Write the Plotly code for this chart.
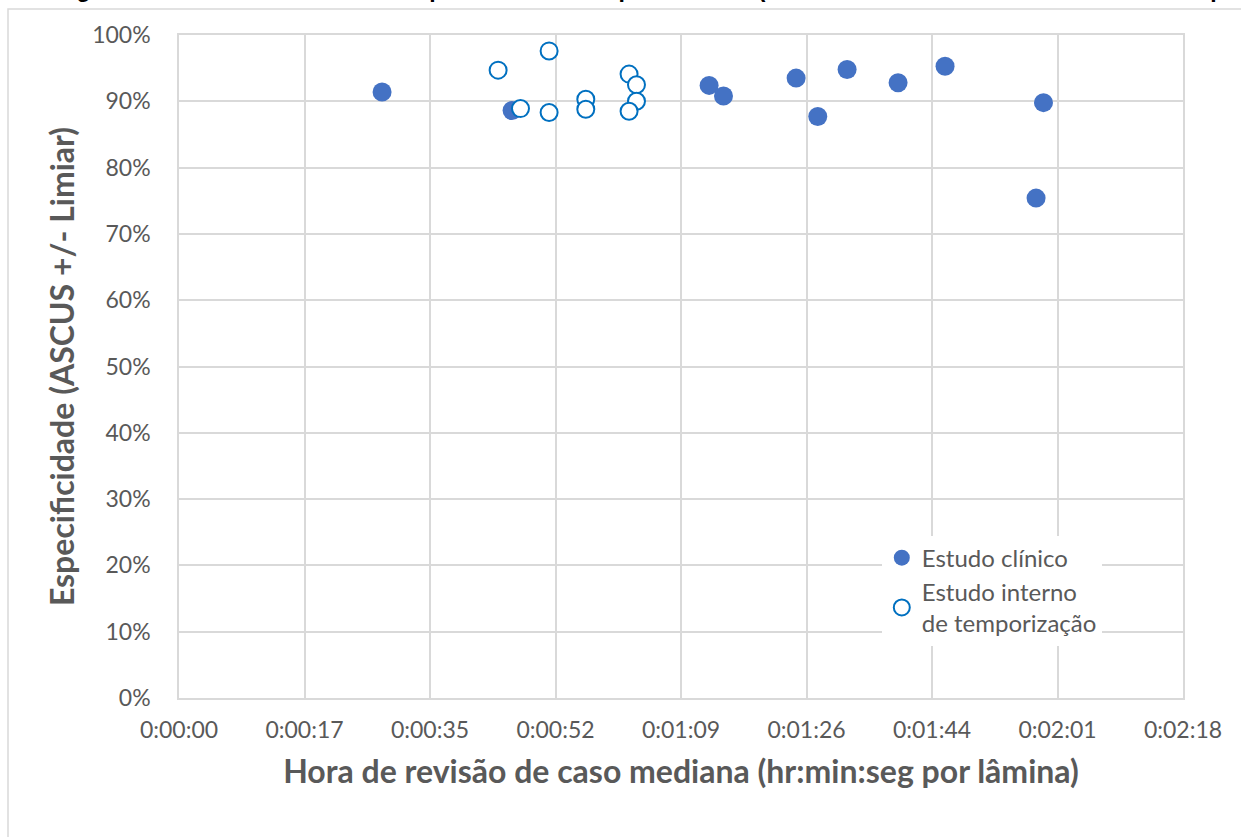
import plotly.graph_objects as go

# Data (seconds per slide, specificity %)
clin_x = [27.96, 45.86, 72.99, 74.97, 84.97, 87.95, 91.99, 99.01, 105.48, 119.03, 118.01]
clin_y = [91.4, 88.6, 92.4, 90.8, 93.5, 87.7, 94.8, 92.8, 95.3, 89.8, 75.4]

int_x = [43.94, 47.02, 50.96, 50.96, 56.01, 56.01, 61.97, 62.99, 62.99, 61.97]
int_y = [94.7, 88.9, 97.6, 88.3, 90.3, 88.8, 94.1, 92.5, 90.0, 88.5]

tick_vals = [0, 17.28, 34.56, 51.84, 69.12, 86.4, 103.68, 120.96, 138.24]
tick_text = ["0:00:00", "0:00:17", "0:00:35", "0:00:52", "0:01:09",
             "0:01:26", "0:01:44", "0:02:01", "0:02:18"]
y_vals = [0, 10, 20, 30, 40, 50, 60, 70, 80, 90, 100]
y_text = [f"{v}%" for v in y_vals]

GRID = "#D9D9D9"
TXT = "#595959"
FONT = "Lato"

fig = go.Figure()
fig.add_trace(go.Scatter(
    x=clin_x, y=clin_y, mode="markers", name="Estudo clínico",
    marker=dict(size=19, color="#4472C4", line=dict(width=0)),
))
fig.add_trace(go.Scatter(
    x=int_x, y=int_y, mode="markers", name="Estudo interno<br>de temporização",
    marker=dict(size=17, color="white", line=dict(width=2, color="#0070C0")),
))

fig.update_layout(
    width=1241, height=837,
    margin=dict(l=179, r=58, t=35, b=139),
    paper_bgcolor="white", plot_bgcolor="white",
    font=dict(family=FONT, color=TXT, size=23),
    showlegend=True,
    legend=dict(x=0.70, y=0.245, xanchor="left", yanchor="top",
                bgcolor="white", font=dict(size=24, color=TXT, family=FONT),
                itemsizing="trace", tracegroupgap=4),
    xaxis=dict(range=[0, 138.24], tickvals=tick_vals, ticktext=tick_text,
               showgrid=True, gridcolor=GRID, gridwidth=1.5,
               showline=True, linecolor=GRID, linewidth=1.5, mirror=True,
               zeroline=False, ticks="", ticklabelstandoff=11,
               title=dict(text="<b>Hora de revisão de caso mediana (hr:min:seg por lâmina)</b>",
                          font=dict(size=32, color=TXT, family=FONT), standoff=18)),
    yaxis=dict(range=[0, 100], tickvals=y_vals, ticktext=y_text,
               showgrid=True, gridcolor=GRID, gridwidth=1.5,
               showline=True, linecolor=GRID, linewidth=1.5, mirror=True,
               zeroline=False, ticks="", ticklabelstandoff=22,
               title=dict(text="<b>Especificidade (ASCUS +/- Limiar)</b>",
                          font=dict(size=32, color=TXT, family=FONT), standoff=8)),
)

# Outer chart border
fig.add_shape(type="rect", xref="paper", yref="paper",
              x0=(8 - 179) / 1004, x1=1.2, y0=-0.4, y1=(698 - 9) / 663,
              line=dict(color=GRID, width=1.5), fillcolor="rgba(0,0,0,0)", layer="below")

# Clipped title at the top (only its lower part is visible, as in the reference)
fig.add_annotation(xref="paper", yref="paper", x=0, y=1, xanchor="left", yanchor="middle",
                   xshift=-125, yshift=46, showarrow=False,
                   text="<b>Figura 3. Hora de revisão de caso por lâmina vs. Especificidade (Estudo clínico vs. Estudo interno de temporização)</b>",
                   font=dict(family="Liberation Sans", size=23, color="black"))

fig.write_html("out.html", config={"displayModeBar": False},
               post_script="document.body.style.margin='0';")
